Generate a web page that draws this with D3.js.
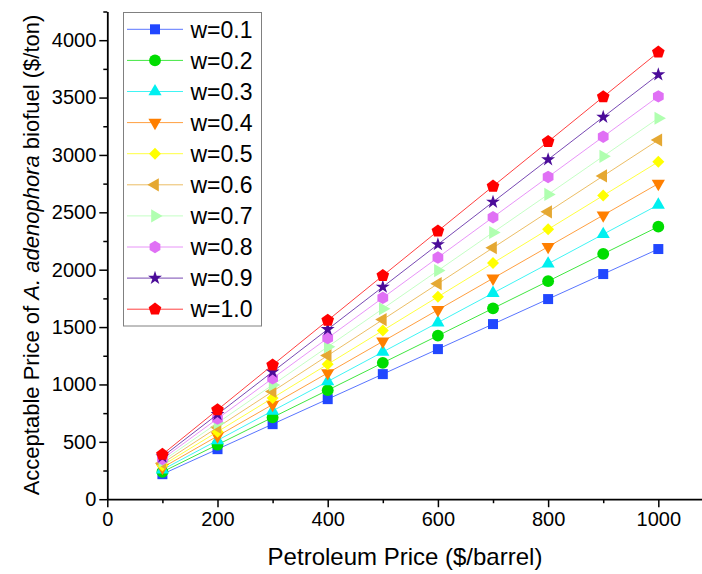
<!DOCTYPE html>
<html>
<head>
<meta charset="utf-8">
<script src="https://cdn.jsdelivr.net/npm/d3@7"></script>
<style>
  body { margin: 0; background: #fff; }
  text { font-family: "Liberation Sans", Arial, sans-serif; }
</style>
</head>
<body>
<div id="chart"></div>
<script>
// data
var petroleum = [100, 200, 300, 400, 500, 600, 700, 800, 900, 1000];
var seriesNames = ["w=0.1", "w=0.2", "w=0.3", "w=0.4", "w=0.5", "w=0.6", "w=0.7", "w=0.8", "w=0.9", "w=1.0"];
var w01 = [218, 436, 654, 872, 1090, 1308, 1526, 1744, 1962, 2180];
var w02 = [238, 475, 713, 950, 1188, 1425, 1663, 1900, 2138, 2375];
var w03 = [257, 513, 770, 1026, 1283, 1539, 1796, 2052, 2309, 2565];
var w04 = [275, 550, 825, 1100, 1375, 1650, 1925, 2200, 2475, 2750];
var w05 = [294, 588, 882, 1176, 1470, 1764, 2058, 2352, 2646, 2940];
var w06 = [313, 626, 939, 1252, 1565, 1878, 2191, 2504, 2817, 3130];
var w07 = [332, 664, 996, 1328, 1660, 1992, 2324, 2656, 2988, 3320];
var w08 = [351, 702, 1053, 1404, 1755, 2106, 2457, 2808, 3159, 3510];
var w09 = [370, 740, 1110, 1480, 1850, 2220, 2590, 2960, 3330, 3700];
var w10 = [390, 779, 1169, 1558, 1948, 2337, 2727, 3116, 3506, 3895];
var xTicks = [0, 200, 400, 600, 800, 1000];
var yTicks = [0, 500, 1000, 1500, 2000, 2500, 3000, 3500, 4000];

var seriesValues = [w01, w02, w03, w04, w05, w06, w07, w08, w09, w10];
var colors = ["#2147ff", "#00dd00", "#00f0f0", "#ff7f00", "#ffff00",
              "#e5a832", "#b0ffb0", "#e070f5", "#4b0c99", "#ff0000"];

// custom polygon symbols
function polygon(n, rot) {
  return {
    draw: function(context, size) {
      var r = Math.sqrt(size / (n * 0.5 * Math.sin(2 * Math.PI / n)));
      for (var i = 0; i < n; i++) {
        var a = rot + i * 2 * Math.PI / n;
        var px = r * Math.sin(a), py = -r * Math.cos(a);
        if (i == 0) context.moveTo(px, py); else context.lineTo(px, py);
      }
      context.closePath();
    }
  };
}
// [type, size, rotation]
var shapes = [
  [d3.symbolSquare, 100, 0],
  [d3.symbolCircle, 110, 0],
  [d3.symbolTriangle, 75, 0],
  [d3.symbolTriangle, 75, 180],
  [d3.symbolSquare, 72, 45],
  [d3.symbolTriangle, 75, 270],
  [d3.symbolTriangle, 75, 90],
  [polygon(6, 0), 100, 0],
  [d3.symbolStar, 60, 0],
  [polygon(5, 0), 105, 0]
];

// set the dimensions and margins of the graph
var W = 702, H = 574;
var svg = d3.select("#chart")
  .append("svg")
    .attr("width", W)
    .attr("height", H);

var x = d3.scaleLinear()
  .domain([0, 1080])
  .range([107.3, 702.4]);
var y = d3.scaleLinear()
  .domain([0, 4250])
  .range([499.2, 11.5]);

// x axis: majors with labels, minors in between
var xMinor = d3.range(100, 1080, 200);
svg.append("g")
  .attr("transform", "translate(0," + y(0) + ")")
  .call(d3.axisBottom(x).tickValues(xMinor).tickSize(4).tickFormat(""))
  .call(function(g) { g.select(".domain").remove(); })
  .selectAll("line").attr("stroke", "#000").attr("stroke-width", 1.5);
var gx = svg.append("g")
  .attr("transform", "translate(0," + y(0) + ")")
  .call(d3.axisBottom(x).tickValues(xTicks).tickFormat(d3.format("d"))
    .tickSize(8).tickPadding(5).tickSizeOuter(0));
gx.select(".domain").attr("stroke-width", 1.8);
gx.selectAll("line").attr("stroke-width", 1.5);
gx.selectAll("text").attr("font-size", 20).attr("fill", "#000")
  .style("font-family", "'Liberation Sans', Arial, sans-serif");

// y axis
var yMinor = d3.range(250, 4260, 500);
svg.append("g")
  .attr("transform", "translate(" + x(0) + ",0)")
  .call(d3.axisLeft(y).tickValues(yMinor).tickSize(4).tickFormat(""))
  .call(function(g) { g.select(".domain").remove(); })
  .selectAll("line").attr("stroke", "#000").attr("stroke-width", 1.5);
var gy = svg.append("g")
  .attr("transform", "translate(" + x(0) + ",0)")
  .call(d3.axisLeft(y).tickValues(yTicks).tickFormat(d3.format("d"))
    .tickSize(8).tickPadding(3).tickSizeOuter(0));
gy.select(".domain").attr("stroke-width", 1.8);
gy.selectAll("line").attr("stroke-width", 1.5);
gy.selectAll("text").attr("font-size", 20).attr("fill", "#000")
  .style("font-family", "'Liberation Sans', Arial, sans-serif");

// axis titles
svg.append("text")
  .attr("x", 405)
  .attr("y", 565)
  .attr("text-anchor", "middle")
  .attr("font-size", 24)
  .text("Petroleum Price ($/barrel)");

var yt = svg.append("text")
  .attr("transform", "translate(39,255) rotate(-90)")
  .attr("text-anchor", "middle")
  .attr("font-size", 22);
yt.append("tspan").text("Acceptable Price of ");
yt.append("tspan").attr("font-style", "italic").text("A. adenophora");
yt.append("tspan").text(" biofuel ($/ton)");

// lines and markers
var line = d3.line()
  .x(function(d, i) { return x(petroleum[i]) })
  .y(function(d) { return y(d) });

seriesValues.forEach(function(vals, s) {
  var g = svg.append("g");
  g.append("path")
    .datum(vals)
    .attr("fill", "none")
    .attr("stroke", colors[s])
    .attr("stroke-opacity", 0.75)
    .attr("stroke-width", 1)
    .attr("d", line);
  g.selectAll("path.mk")
    .data(vals)
    .enter()
    .append("path")
      .attr("class", "mk")
      .attr("d", d3.symbol().type(shapes[s][0]).size(shapes[s][1]))
      .attr("transform", function(d, i) {
        return "translate(" + x(petroleum[i]) + "," + y(d) + ") rotate(" + shapes[s][2] + ")";
      })
      .attr("fill", colors[s]);
});

// legend
var legend = svg.append("g");
legend.append("rect")
  .attr("x", 123.5)
  .attr("y", 12.5)
  .attr("width", 138)
  .attr("height", 313.5)
  .attr("fill", "#fff")
  .attr("stroke", "#808080")
  .attr("stroke-width", 1);
seriesNames.forEach(function(name, s) {
  var cy = 29.3 + s * 31.1;
  legend.append("line")
    .attr("x1", 127).attr("x2", 183)
    .attr("y1", cy).attr("y2", cy)
    .attr("stroke", colors[s])
    .attr("stroke-opacity", 0.75)
    .attr("stroke-width", 1);
  legend.append("path")
    .attr("d", d3.symbol().type(shapes[s][0]).size(shapes[s][1])())
    .attr("transform", "translate(155," + cy + ") rotate(" + shapes[s][2] + ")")
    .attr("fill", colors[s]);
  legend.append("text")
    .attr("x", 190.5)
    .attr("y", cy)
    .attr("dy", "0.36em")
    .attr("font-size", 23)
    .text(name);
});
</script>
</body>
</html>
